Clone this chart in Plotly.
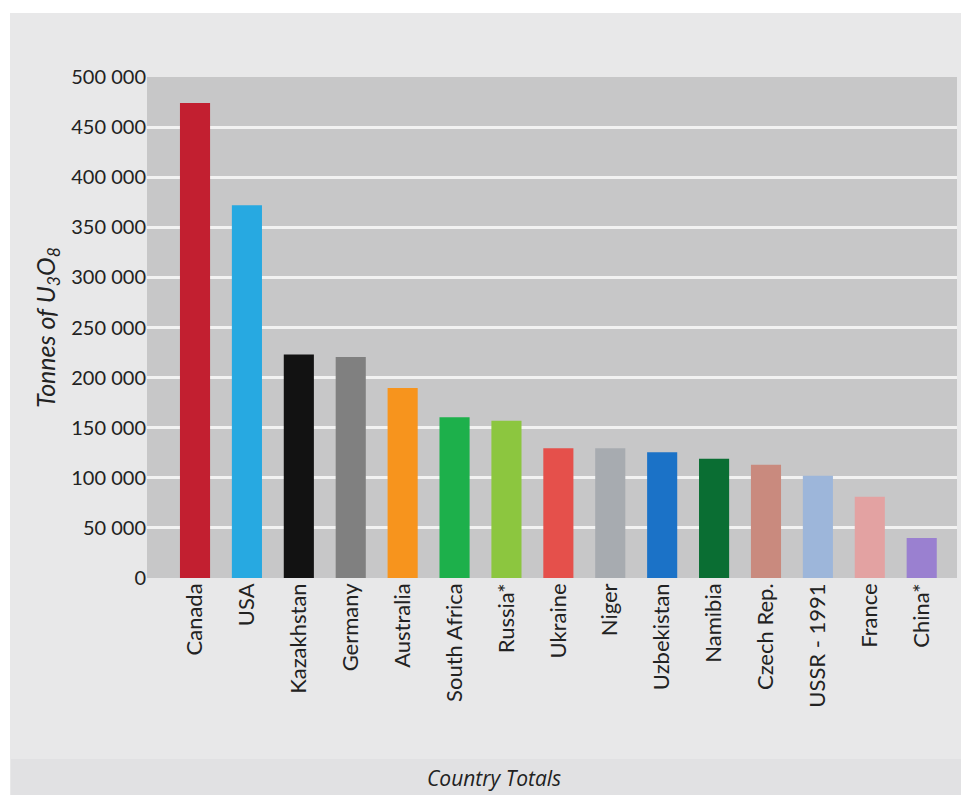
import plotly.graph_objects as go

countries = ["Canada", "USA", "Kazakhstan", "Germany", "Australia", "South Africa",
             "Russia*", "Ukraine", "Niger", "Uzbekistan", "Namibia", "Czech Rep.",
             "USSR - 1991", "France", "China*"]
tonnes = [474000, 372000, 223000, 220500, 189500, 160500, 157000, 129500, 129500,
          125500, 119000, 113000, 102000, 81000, 40000]
colors = ["#c21f30", "#27a9e1", "#121212", "#808080", "#f7941d", "#1db04b", "#8cc63f",
          "#e5504b", "#a7abb0", "#1b72c7", "#0a6e33", "#c98a7e", "#9db6da", "#e3a2a2",
          "#9a80d0"]
y_ticks = [0, 50000, 100000, 150000, 200000, 250000, 300000, 350000, 400000, 450000, 500000]

# page body has an 8px margin, so the figure is laid out 8px smaller and offset
OFF = 8
W, H = 969 - OFF, 795 - OFF
ml, mr, mt, mb = 147 - OFF, 12, 77 - OFF, 217
pw, ph = W - ml - mr, H - mt - mb

def px(x):  # reference-picture x -> paper
    return (x - OFF - ml) / pw

def py(y):  # reference-picture y -> paper
    return (H - mb - (y - OFF)) / ph

fig = go.Figure(go.Bar(
    x=countries, y=tonnes, marker=dict(color=colors, line=dict(width=0)),
    width=0.58,
))

font_main = "Lato, 'Open Sans', sans-serif"

fig.update_layout(
    width=W, height=H,
    margin=dict(l=ml, r=mr, t=mt, b=mb),
    paper_bgcolor="#e8e8e9",
    plot_bgcolor="#c7c7c8",
    separators=". ",
    showlegend=False,
    font=dict(family=font_main, color="#222222"),
    shapes=[
        dict(type="rect", xref="paper", yref="paper",
             x0=px(0), x1=px(10), y0=py(800), y1=py(0),
             fillcolor="white", line=dict(width=0), layer="below"),
        dict(type="rect", xref="paper", yref="paper",
             x0=px(0), x1=px(975), y0=py(13), y1=py(0),
             fillcolor="white", line=dict(width=0), layer="below"),
        dict(type="rect", xref="paper", yref="paper",
             x0=px(11), x1=px(975), y0=py(800), y1=py(759),
             fillcolor="#e1e1e3", line=dict(width=0), layer="below"),
        dict(type="rect", xref="paper", yref="paper",
             x0=0, x1=1, y0=0, y1=1,
             fillcolor="#c7c7c8", line=dict(width=0), layer="below"),
    ],
    annotations=[
        dict(text="Country Totals", xref="paper", yref="paper",
             x=px(494), y=py(778), showarrow=False, xanchor="center", yanchor="middle",
             font=dict(family="'Liberation Sans Narrow', 'Open Sans', sans-serif",
                       size=21, color="#222222", style="italic")),
    ],
)

fig.update_xaxes(
    range=[-0.925, 14.68], tickangle=-90, tickfont=dict(size=22, color="#222222"),
    showgrid=False, ticks="", showline=False, zeroline=False,
)
fig.update_yaxes(
    range=[0, 500000], tickvals=y_ticks, tickformat=",d",
    tickfont=dict(size=20, color="#222222"),
    showgrid=True, gridcolor="#f2f2f2", gridwidth=2.5,
    zeroline=False, showline=False, ticks="",
    title=dict(text="Tonnes of U<sub>3</sub>O<sub>8</sub>",
               font=dict(size=25, color="#222222", style="italic"), standoff=8),
)

fig.write_html("out.html")
